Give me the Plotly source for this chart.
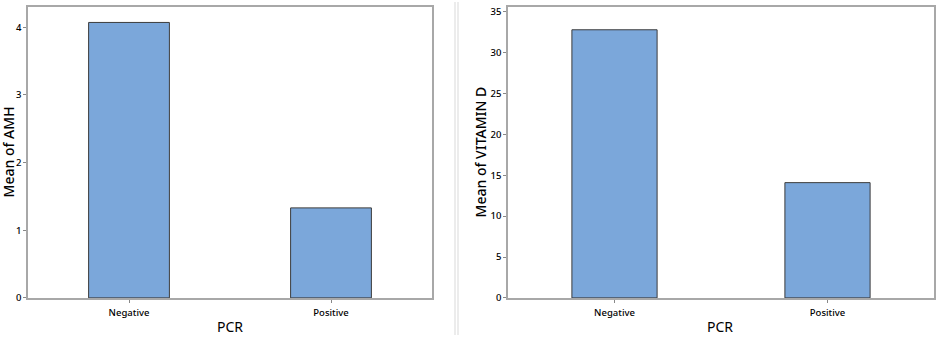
import plotly.graph_objects as go

categories = ["Negative", "Positive"]
amh_means = [4.07, 1.33]
vitd_means = [32.8, 14.1]
amh_ticks = [0, 1, 2, 3, 4]
vitd_ticks = [0, 5, 10, 15, 20, 25, 30, 35]

W, H = 940, 341
BAR = "#7ba7da"
EDGE = "#3c3c3c"
FRAME = "#a8a8a8"
FONT = "Noto Sans"

fig = go.Figure()
fig.add_trace(go.Bar(x=categories, y=amh_means, width=0.4, marker=dict(color=BAR, line=dict(color=EDGE, width=1)),
                     xaxis="x", yaxis="y", showlegend=False))
fig.add_trace(go.Bar(x=categories, y=vitd_means, width=0.4, marker=dict(color=BAR, line=dict(color=EDGE, width=1)),
                     xaxis="x2", yaxis="y2", showlegend=False))

def px_x(p):
    return p / W

def px_y(p):
    return 1 - p / H

ydom = [px_y(303), px_y(5)]
axis_common = dict(showline=True, linecolor=FRAME, linewidth=1.5, mirror=True, ticks="outside",
                   ticklen=3, tickcolor="#888888", showgrid=False, zeroline=False,
                   tickfont=dict(family=FONT, size=9.5, color="#000000", weight=500))

fig.update_layout(
    width=W, height=H, margin=dict(l=0, r=0, t=0, b=0),
    paper_bgcolor="white", plot_bgcolor="white",
    xaxis=dict(domain=[px_x(28), px_x(432)], anchor="y", range=[-0.5, 1.5], ticklabelstandoff=2, **axis_common),
    yaxis=dict(domain=ydom, anchor="x", range=[0, 4.30], tickvals=amh_ticks, **axis_common),
    xaxis2=dict(domain=[px_x(508), px_x(934)], anchor="y2", range=[-0.5, 1.5], ticklabelstandoff=2, **axis_common),
    yaxis2=dict(domain=ydom, anchor="x2", range=[0, 35.6], tickvals=vitd_ticks, **axis_common),
    font=dict(family=FONT),
)

annots = [
    dict(text="Mean of AMH", x=px_x(8), y=px_y(154), textangle=-90, size=14, weight=500),
    dict(text="Mean of VITAMIN D", x=px_x(480), y=px_y(153), textangle=-90, size=14, weight=500),
    dict(text="PCR", x=px_x(230), y=px_y(332), textangle=0, size=14, weight=400),
    dict(text="PCR", x=px_x(720), y=px_y(332), textangle=0, size=14, weight=400),
]
for a in annots:
    fig.add_annotation(text=a["text"], x=a["x"], y=a["y"], xref="paper", yref="paper", showarrow=False,
                       textangle=a["textangle"], xanchor="center", yanchor="middle",
                       font=dict(family=FONT, size=a["size"], color="#000000", weight=a["weight"]))

for xp in (455, 458):
    fig.add_shape(type="line", xref="paper", yref="paper", x0=px_x(xp), x1=px_x(xp), y0=0, y1=1,
                  line=dict(color="#d9d9d9", width=1))

fig.write_html("out.html")
